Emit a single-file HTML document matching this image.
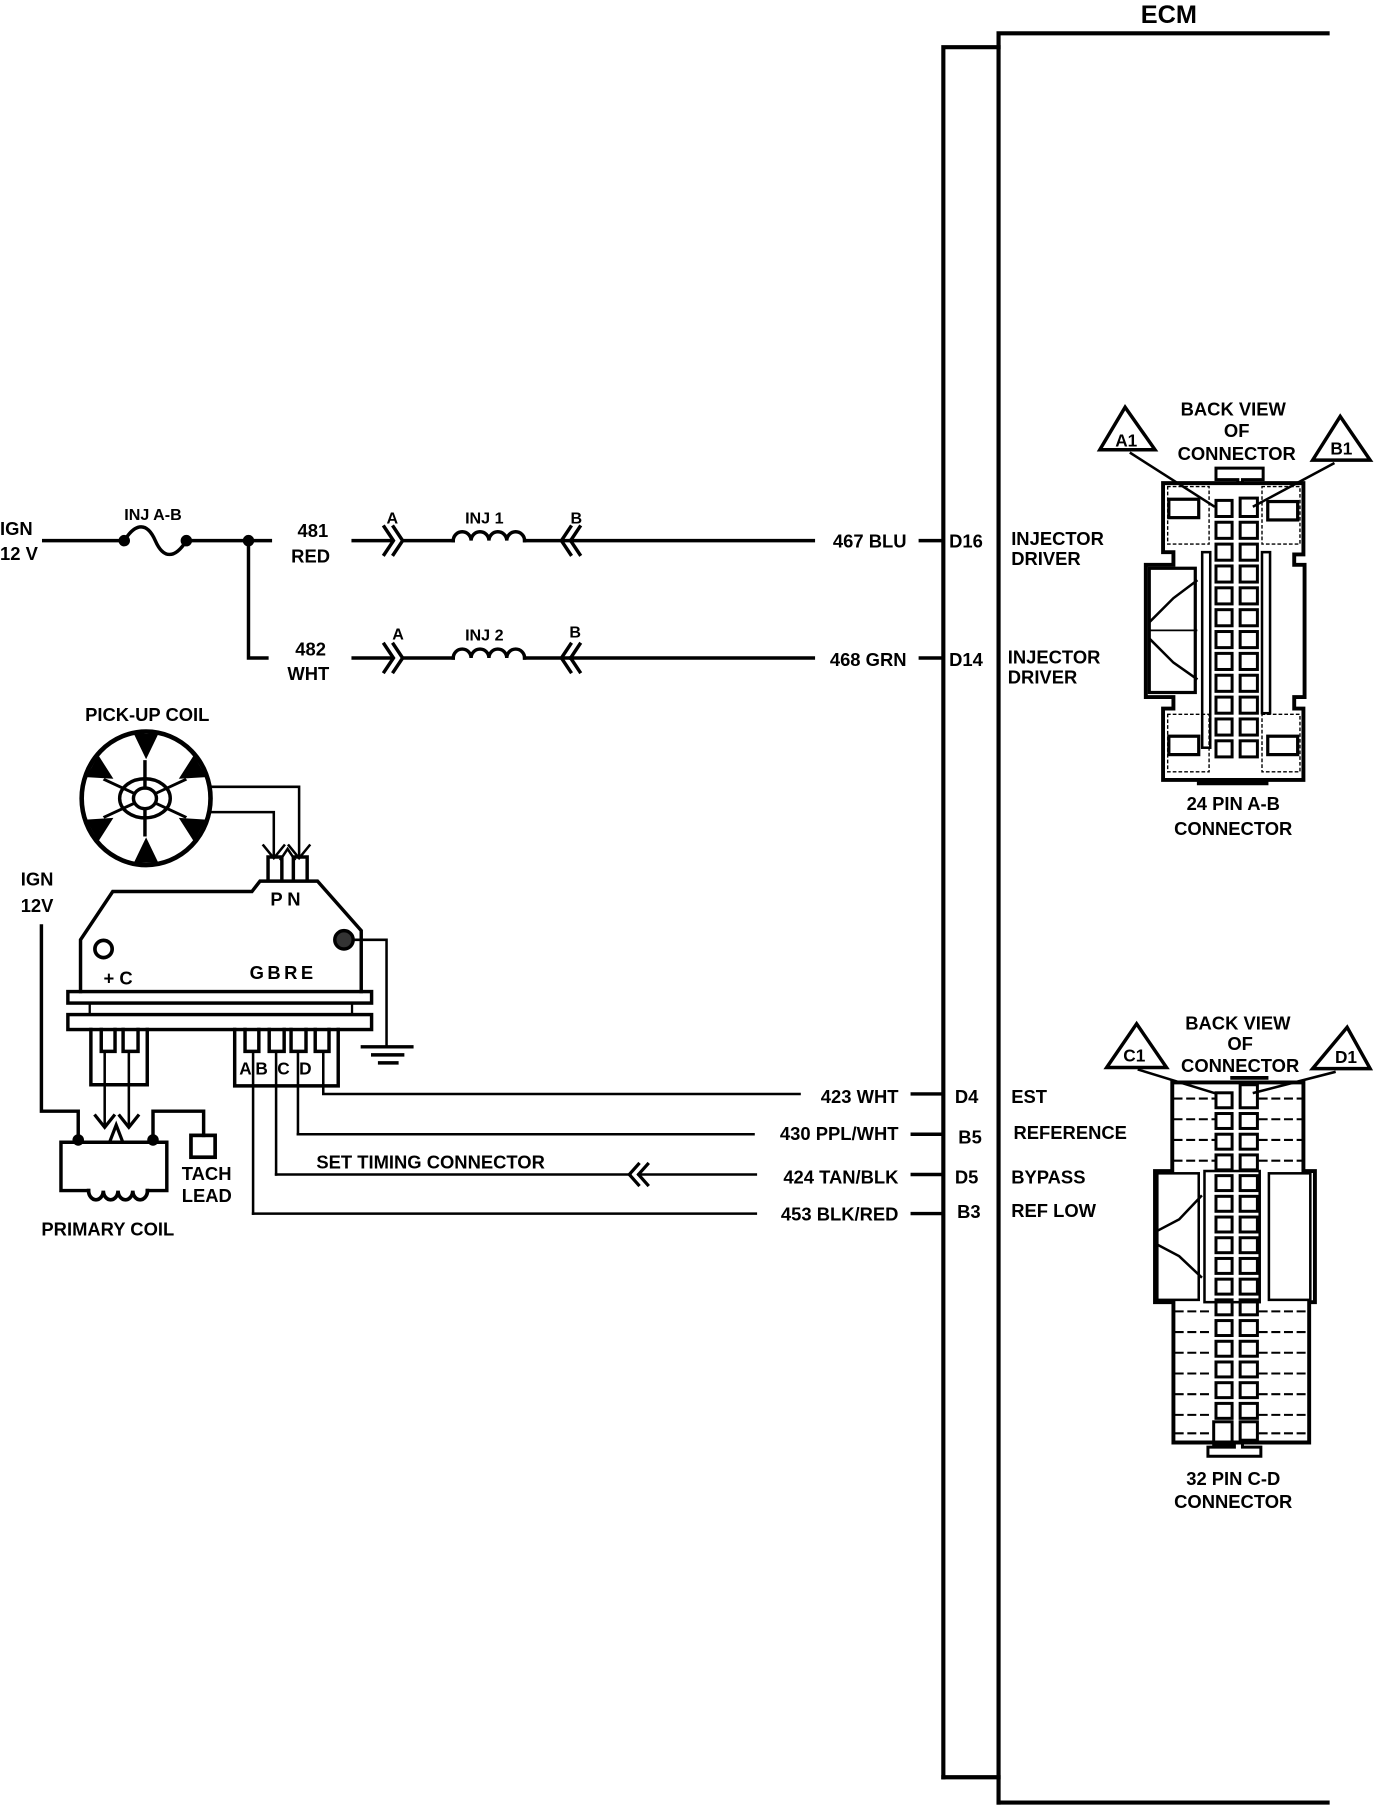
<!DOCTYPE html>
<html><head><meta charset="utf-8"><style>
html,body{margin:0;padding:0;background:#fff;}
svg{display:block;}
text{font-family:"Liberation Sans",sans-serif;font-weight:bold;fill:#000;}
</style></head><body>
<svg width="1392" height="1806" viewBox="0 0 1210 1570" preserveAspectRatio="none" xmlns="http://www.w3.org/2000/svg">
<g stroke="#000" stroke-width="3" fill="none" stroke-linecap="square">
<!-- ECM -->
<polyline points="820,1545 820,41 868,41" stroke-width="3.6"/>
<polyline points="868,1567 868,29 1154,29" stroke-width="3.6"/>
<polyline points="820,1545 868,1545" stroke-width="3.6"/>
<polyline points="868,1567 1154,1567" stroke-width="3.6"/>

<!-- row1 -->
<line x1="38" y1="470" x2="108" y2="470"/>
<path d="M108 470 C118 454 128 454 135 470 S152 486 162 470"/>
<line x1="162" y1="470" x2="235" y2="470"/>
<polyline points="216,470 216,572 232,572"/>
<line x1="307" y1="470" x2="340" y2="470"/>
<polyline points="334,458 342,470 334,482"/><polyline points="342,458 350,470 342,482"/>
<line x1="350" y1="470" x2="394" y2="470"/>
<path d="M394 470 a7.75 7.75 0 0 1 15.5 0 a7.75 7.75 0 0 1 15.5 0 a7.75 7.75 0 0 1 15.5 0 a7.75 7.75 0 0 1 15.5 0"/>
<line x1="456" y1="470" x2="494" y2="470"/>
<polyline points="496,458 488,470 496,482"/><polyline points="504,458 496,470 504,482"/>
<line x1="496" y1="470" x2="707" y2="470"/>
<line x1="800" y1="470" x2="819" y2="470"/>
<!-- row2 -->
<line x1="307" y1="572" x2="340" y2="572"/>
<polyline points="334,560 342,572 334,584"/><polyline points="342,560 350,572 342,584"/>
<line x1="350" y1="572" x2="394" y2="572"/>
<path d="M394 572 a7.75 7.75 0 0 1 15.5 0 a7.75 7.75 0 0 1 15.5 0 a7.75 7.75 0 0 1 15.5 0 a7.75 7.75 0 0 1 15.5 0"/>
<line x1="456" y1="572" x2="494" y2="572"/>
<polyline points="496,560 488,572 496,584"/><polyline points="504,560 496,572 504,584"/>
<line x1="496" y1="572" x2="707" y2="572"/>
<line x1="800" y1="572" x2="819" y2="572"/>

<!-- pick-up coil -->
<ellipse cx="127" cy="694" rx="56" ry="58" stroke-width="4"/>
<ellipse cx="126" cy="694" rx="22" ry="17"/>
<ellipse cx="126" cy="694" rx="10" ry="9"/>
<g transform="translate(126,694) scale(1,0.8)">
<line x1="0" y1="-11" x2="0" y2="-40" transform="rotate(0)"/>
<line x1="0" y1="-11" x2="0" y2="-40" transform="rotate(60)"/>
<line x1="0" y1="-11" x2="0" y2="-40" transform="rotate(120)"/>
<line x1="0" y1="-11" x2="0" y2="-40" transform="rotate(180)"/>
<line x1="0" y1="-11" x2="0" y2="-40" transform="rotate(240)"/>
<line x1="0" y1="-11" x2="0" y2="-40" transform="rotate(300)"/>
</g>
<g transform="translate(127,694) scale(0.966,1)" fill="#000" stroke="none">
<polygon points="-11,-56 11,-56 0,-34"/>
<polygon points="-11,-56 11,-56 0,-34" transform="rotate(60)"/>
<polygon points="-11,-56 11,-56 0,-34" transform="rotate(120)"/>
<polygon points="-11,-56 11,-56 0,-34" transform="rotate(180)"/>
<polygon points="-11,-56 11,-56 0,-34" transform="rotate(240)"/>
<polygon points="-11,-56 11,-56 0,-34" transform="rotate(300)"/>
</g>
<polyline points="183,684 260,684 260,745" stroke-width="2.2"/>
<polyline points="182,706 238,706 238,745" stroke-width="2.2"/>
<polyline points="229,735 238,746 247,735" stroke-width="2.2"/>
<polyline points="251,735 260,746 269,735" stroke-width="2.2"/>
<polyline points="233,765 233,745 245,745 245,765"/>
<polyline points="255,765 255,745 267,745 267,765"/>
<polyline points="244,747 250,738 256,747" stroke-width="2.2"/>

<!-- module -->
<polyline points="70,862 70,817 98,775 219,775 226,766 276,766 314,809 314,862"/>
<circle cx="90" cy="825" r="7.5" stroke-width="3.2"/>
<circle cx="299" cy="817" r="8" fill="#333"/>
<rect x="59" y="862" width="264" height="10"/>
<rect x="78" y="872" width="228" height="10" stroke-width="2"/>
<rect x="59" y="882" width="264" height="13"/>
<!-- ground -->
<polyline points="307,817 336,817 336,910" stroke-width="2.2"/>
<line x1="315" y1="910" x2="358" y2="910"/>
<line x1="324" y1="917" x2="350" y2="917"/>
<line x1="330" y1="924" x2="345" y2="924"/>
<!-- left block -->
<polyline points="79,895 79,943 128,943 128,895"/>
<polyline points="88,895 88,914 100,914 100,895"/>
<polyline points="107,895 107,914 120,914 120,895"/>
<line x1="91" y1="914" x2="91" y2="979" stroke-width="2.2"/>
<line x1="112" y1="914" x2="112" y2="979" stroke-width="2.2"/>
<polyline points="83,970 91,980 99,970" stroke-width="2.8"/>
<polyline points="104,970 112,980 120,970" stroke-width="2.8"/>
<polyline points="96,991 101,978 106,991" stroke-width="2.8"/>
<!-- right block -->
<polyline points="204,895 204,944 294,944 294,895"/>
<polyline points="213,895 213,914 225,914 225,895"/>
<polyline points="234,895 234,914 247,914 247,895"/>
<polyline points="253,895 253,914 266,914 266,895"/>
<polyline points="274,895 274,914 286,914 286,895"/>
<line x1="220" y1="914" x2="220" y2="1055" stroke-width="2.2"/>
<line x1="240" y1="914" x2="240" y2="1021" stroke-width="2.2"/>
<line x1="259" y1="914" x2="259" y2="986" stroke-width="2.2"/>
<polyline points="281,914 281,951 695,951" stroke-width="2.2"/>
<polyline points="259,986 655,986" stroke-width="2.2"/>
<polyline points="240,1021 548,1021" stroke-width="2.2"/>
<polyline points="555,1012 547,1021 555,1030" stroke-width="2.8"/>
<polyline points="563,1012 555,1021 563,1030" stroke-width="2.8"/>
<line x1="555" y1="1021" x2="657" y2="1021" stroke-width="2.2"/>
<polyline points="220,1055 657,1055" stroke-width="2.2"/>
<line x1="793" y1="951" x2="819" y2="951"/>
<line x1="793" y1="986" x2="819" y2="986"/>
<line x1="793" y1="1021" x2="819" y2="1021"/>
<line x1="793" y1="1055" x2="819" y2="1055"/>
<!-- primary coil -->
<polyline points="36,805 36,966 68,966 68,991"/>
<polyline points="133,991 133,966 177,966 177,987"/>
<rect x="166" y="987" width="21" height="19" stroke-width="3.2"/>
<polyline points="77,1035 53,1035 53,993 145,993 145,1035 128,1035"/>
<path d="M77 1035 a6.4 8 0 0 0 12.8 0 a6.4 8 0 0 0 12.8 0 a6.4 8 0 0 0 12.8 0 a6.4 8 0 0 0 12.8 0" stroke-width="3.2"/>
<circle cx="68" cy="991" r="3.5" fill="#000"/>
<circle cx="133" cy="991" r="3.5" fill="#000"/>
<circle cx="108" cy="470" r="3.5" fill="#000"/>
<circle cx="162" cy="470" r="3.5" fill="#000"/>
<circle cx="216" cy="470" r="3.5" fill="#000"/>

<!-- 24 pin connector -->
<polygon points="956,391 978,354 1004,391"/>
<polygon points="1141,400 1165,362 1191,400"/>
<line x1="983" y1="394" x2="1055" y2="440" stroke-width="2.2"/>
<line x1="1159" y1="403" x2="1090" y2="440" stroke-width="2.2"/>
<polyline points="1057,417 1057,407 1098,407 1098,417 1080,417 1080,420 1076,420 1076,417 1057,417" stroke-width="2.6"/>
<polyline points="1011,480 1011,420 1133,420 1133,482 1125,482 1125,491 1134,491 1134,606 1125,606 1125,616 1133,616 1133,678 1011,678 1011,616 1020,616 1020,606 996,606 996,491 1020,491 1020,480 1011,480" stroke-width="3.4"/>
<rect x="1015" y="423" width="36" height="50" stroke-width="1.2" stroke-dasharray="2 3"/>
<rect x="1097" y="423" width="33" height="50" stroke-width="1.2" stroke-dasharray="2 3"/>
<rect x="1016" y="434" width="26" height="16" stroke-width="2.8"/>
<rect x="1102" y="436" width="26" height="16" stroke-width="2.8"/>
<rect x="1015" y="621" width="36" height="50" stroke-width="1.2" stroke-dasharray="2 3"/>
<rect x="1097" y="621" width="33" height="50" stroke-width="1.2" stroke-dasharray="2 3"/>
<rect x="1016" y="640" width="26" height="16" stroke-width="2.8"/>
<rect x="1102" y="640" width="26" height="16" stroke-width="2.8"/>
<rect x="1045" y="480" width="7" height="170" stroke-width="2.2"/>
<rect x="1097" y="480" width="7" height="140" stroke-width="2.2"/>
<rect x="999" y="494" width="40" height="108" stroke-width="2.8"/>
<polyline points="1000,540 1020,520 1040,505" stroke-width="2.2"/>
<polyline points="1000,556 1020,576 1040,590" stroke-width="2.2"/>
<polyline points="1000,548 1040,548" stroke-width="1.6"/>
<line x1="1042" y1="681" x2="1101" y2="681" stroke-width="3.2"/>
<g stroke-width="2.6">
<rect x="1057" y="435" width="14" height="14"/><rect x="1078" y="433" width="15" height="16"/>
<rect x="1057" y="454" width="14" height="14"/><rect x="1078" y="454" width="15" height="14"/>
<rect x="1057" y="473" width="14" height="14"/><rect x="1078" y="473" width="15" height="14"/>
<rect x="1057" y="492" width="14" height="14"/><rect x="1078" y="492" width="15" height="14"/>
<rect x="1057" y="511" width="14" height="14"/><rect x="1078" y="511" width="15" height="14"/>
<rect x="1057" y="530" width="14" height="14"/><rect x="1078" y="530" width="15" height="14"/>
<rect x="1057" y="549" width="14" height="14"/><rect x="1078" y="549" width="15" height="14"/>
<rect x="1057" y="568" width="14" height="14"/><rect x="1078" y="568" width="15" height="14"/>
<rect x="1057" y="587" width="14" height="14"/><rect x="1078" y="587" width="15" height="14"/>
<rect x="1057" y="606" width="14" height="14"/><rect x="1078" y="606" width="15" height="14"/>
<rect x="1057" y="625" width="14" height="14"/><rect x="1078" y="625" width="15" height="14"/>
<rect x="1057" y="644" width="14" height="14"/><rect x="1078" y="644" width="15" height="14"/>
</g>

<!-- 32 pin connector -->
<polygon points="962,928 988,890 1014,928"/>
<polygon points="1141,929 1171,893 1191,929"/>
<line x1="990" y1="930" x2="1055" y2="950" stroke-width="2.2"/>
<line x1="1160" y1="932" x2="1090" y2="950" stroke-width="2.2"/>
<line x1="1071" y1="937" x2="1101" y2="937" stroke-width="3.2"/>
<polyline points="1019,1016 1019,941 1133,941 1133,1018 1143,1018 1143,1132 1138,1132 1138,1254 1020,1254 1020,1132 1004,1132 1004,1018 1019,1018" stroke-width="3.4"/>
<rect x="1047" y="1018" width="48" height="114" stroke-width="2.2"/>
<rect x="1103" y="1020" width="36" height="110" stroke-width="2.2"/>
<rect x="1006" y="1020" width="36" height="110" stroke-width="2.2"/>
<polyline points="1006,1070 1025,1060 1044,1040" stroke-width="2.2"/>
<polyline points="1006,1082 1025,1092 1044,1110" stroke-width="2.2"/>
<g stroke-width="1.8" stroke-dasharray="6 5">
<line x1="1021" y1="955" x2="1055" y2="955"/><line x1="1095" y1="955" x2="1131" y2="955"/>
<line x1="1021" y1="973" x2="1055" y2="973"/><line x1="1095" y1="973" x2="1131" y2="973"/>
<line x1="1021" y1="991" x2="1055" y2="991"/><line x1="1095" y1="991" x2="1131" y2="991"/>
<line x1="1021" y1="1009" x2="1055" y2="1009"/><line x1="1095" y1="1009" x2="1131" y2="1009"/>
<line x1="1022" y1="1140" x2="1055" y2="1140"/><line x1="1095" y1="1140" x2="1136" y2="1140"/>
<line x1="1022" y1="1158" x2="1055" y2="1158"/><line x1="1095" y1="1158" x2="1136" y2="1158"/>
<line x1="1022" y1="1176" x2="1055" y2="1176"/><line x1="1095" y1="1176" x2="1136" y2="1176"/>
<line x1="1022" y1="1194" x2="1055" y2="1194"/><line x1="1095" y1="1194" x2="1136" y2="1194"/>
<line x1="1022" y1="1212" x2="1055" y2="1212"/><line x1="1095" y1="1212" x2="1136" y2="1212"/>
<line x1="1022" y1="1230" x2="1055" y2="1230"/><line x1="1095" y1="1230" x2="1136" y2="1230"/>
<line x1="1022" y1="1246" x2="1055" y2="1246"/><line x1="1095" y1="1246" x2="1136" y2="1246"/>
</g>
<g stroke-width="2.6">
<rect x="1057" y="950" width="14" height="13"/><rect x="1078" y="943" width="15" height="20"/>
<rect x="1057" y="968" width="14" height="13"/><rect x="1078" y="968" width="15" height="13"/>
<rect x="1057" y="986" width="14" height="13"/><rect x="1078" y="986" width="15" height="13"/>
<rect x="1057" y="1004" width="14" height="13"/><rect x="1078" y="1004" width="15" height="13"/>
<rect x="1057" y="1022" width="14" height="13"/><rect x="1078" y="1022" width="15" height="13"/>
<rect x="1057" y="1040" width="14" height="13"/><rect x="1078" y="1040" width="15" height="13"/>
<rect x="1057" y="1058" width="14" height="13"/><rect x="1078" y="1058" width="15" height="13"/>
<rect x="1057" y="1076" width="14" height="13"/><rect x="1078" y="1076" width="15" height="13"/>
<rect x="1057" y="1094" width="14" height="13"/><rect x="1078" y="1094" width="15" height="13"/>
<rect x="1057" y="1112" width="14" height="13"/><rect x="1078" y="1112" width="15" height="13"/>
<rect x="1057" y="1130" width="14" height="13"/><rect x="1078" y="1130" width="15" height="13"/>
<rect x="1057" y="1148" width="14" height="13"/><rect x="1078" y="1148" width="15" height="13"/>
<rect x="1057" y="1166" width="14" height="13"/><rect x="1078" y="1166" width="15" height="13"/>
<rect x="1057" y="1184" width="14" height="13"/><rect x="1078" y="1184" width="15" height="13"/>
<rect x="1057" y="1202" width="14" height="13"/><rect x="1078" y="1202" width="15" height="13"/>
<rect x="1057" y="1220" width="14" height="13"/><rect x="1078" y="1220" width="15" height="13"/>
<rect x="1055" y="1236" width="16" height="20"/><rect x="1078" y="1236" width="15" height="16"/>
</g>
<polyline points="1050,1266 1050,1258 1073,1258 1073,1254 1080,1254 1080,1258 1096,1258 1096,1266 1050,1266" stroke-width="2.6"/>
</g>

<g font-size="16">
<text x="1016" y="20" font-size="22" font-weight="normal" text-anchor="middle">ECM</text>
<text x="0" y="465">IGN</text><text x="0" y="487">12 V</text>
<text x="133" y="452" text-anchor="middle" font-size="14">INJ A-B</text>
<text x="272" y="467" text-anchor="middle">481</text><text x="270" y="489" text-anchor="middle">RED</text>
<text x="270" y="570" text-anchor="middle">482</text><text x="268" y="591" text-anchor="middle">WHT</text>
<text x="341" y="455" text-anchor="middle" font-size="14">A</text>
<text x="421" y="455" text-anchor="middle" font-size="14">INJ 1</text>
<text x="501" y="455" text-anchor="middle" font-size="14">B</text>
<text x="346" y="556" text-anchor="middle" font-size="14">A</text>
<text x="421" y="557" text-anchor="middle" font-size="14">INJ 2</text>
<text x="500" y="554" text-anchor="middle" font-size="14">B</text>
<text x="788" y="476" text-anchor="end">467 BLU</text>
<text x="788" y="579" text-anchor="end">468 GRN</text>
<text x="825" y="476">D16</text><text x="825" y="579">D14</text>
<text x="879" y="474">INJECTOR</text><text x="879" y="491">DRIVER</text>
<text x="876" y="577">INJECTOR</text><text x="876" y="594">DRIVER</text>
<text x="128" y="627" text-anchor="middle">PICK-UP COIL</text>
<text x="18" y="770">IGN</text><text x="18" y="793">12V</text>
<text x="235" y="787" letter-spacing="4">PN</text>
<text x="90" y="856">+ C</text>
<text x="217" y="851" letter-spacing="3">GBRE</text>
<text x="208" y="934" font-size="15">A</text><text x="222" y="934" font-size="15">B</text><text x="241" y="934" font-size="15">C</text><text x="260" y="934" font-size="15">D</text>
<text x="158" y="1026">TACH</text><text x="158" y="1045">LEAD</text>
<text x="36" y="1074">PRIMARY COIL</text>
<text x="275" y="1016">SET TIMING CONNECTOR</text>
<text x="781" y="959" text-anchor="end">423 WHT</text>
<text x="781" y="991" text-anchor="end">430 PPL/WHT</text>
<text x="781" y="1029" text-anchor="end">424 TAN/BLK</text>
<text x="781" y="1061" text-anchor="end">453 BLK/RED</text>
<text x="830" y="959">D4</text><text x="833" y="994">B5</text><text x="830" y="1029">D5</text><text x="832" y="1059">B3</text>
<text x="879" y="959">EST</text><text x="881" y="990">REFERENCE</text><text x="879" y="1029">BYPASS</text><text x="879" y="1058">REF LOW</text>
<text x="1072" y="361" text-anchor="middle">BACK VIEW</text>
<text x="1075" y="380" text-anchor="middle">OF</text>
<text x="1075" y="400" text-anchor="middle">CONNECTOR</text>
<text x="979" y="388" text-anchor="middle" font-size="15">A1</text>
<text x="1166" y="395" text-anchor="middle" font-size="15">B1</text>
<text x="1072" y="704" text-anchor="middle">24 PIN  A-B</text>
<text x="1072" y="726" text-anchor="middle">CONNECTOR</text>
<text x="1076" y="895" text-anchor="middle">BACK VIEW</text>
<text x="1078" y="913" text-anchor="middle">OF</text>
<text x="1078" y="932" text-anchor="middle">CONNECTOR</text>
<text x="986" y="923" text-anchor="middle" font-size="15">C1</text>
<text x="1170" y="924" text-anchor="middle" font-size="15">D1</text>
<text x="1072" y="1291" text-anchor="middle">32 PIN C-D</text>
<text x="1072" y="1311" text-anchor="middle">CONNECTOR</text>
</g>
</svg>
</body></html>
